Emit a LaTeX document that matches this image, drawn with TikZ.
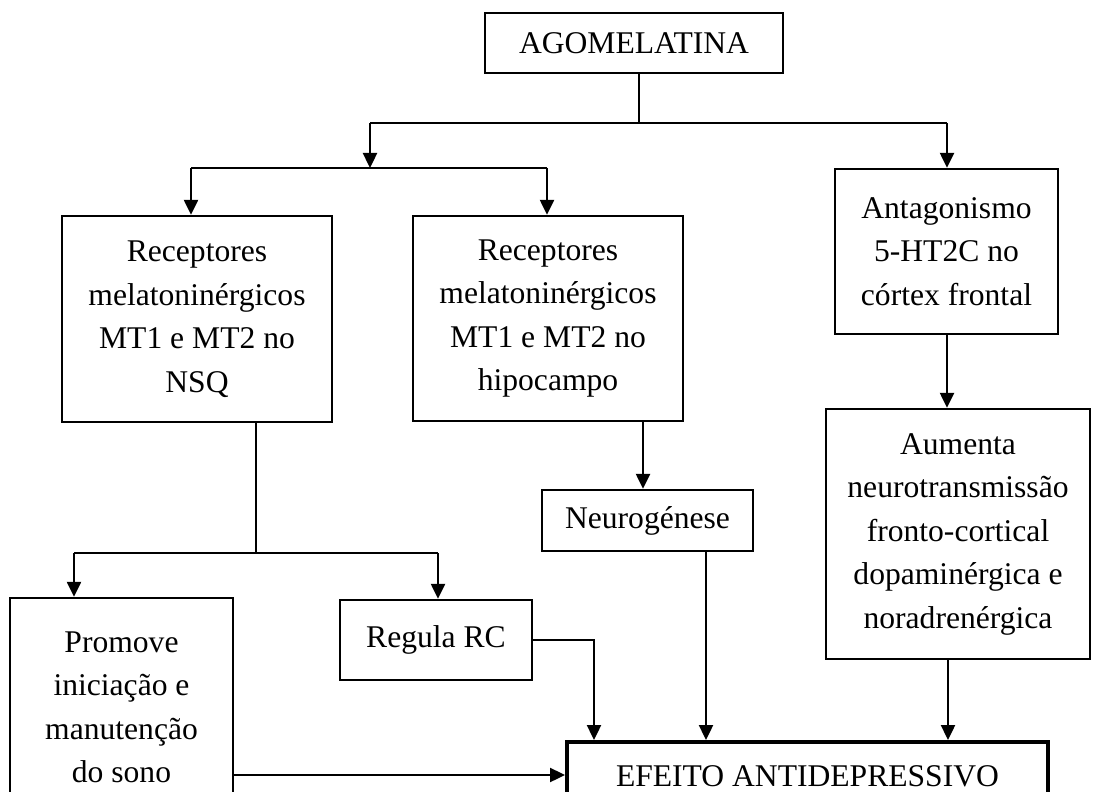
\documentclass[tikz,border=0pt]{standalone}
\usepackage{fontspec}
\setmainfont{Liberation Serif}
\usetikzlibrary{arrows.meta}

\begin{document}
\begin{tikzpicture}[x=0.5pt,y=-0.5pt,font=\fontsize{15.8pt}{21.75pt}\selectfont]

\tikzset{
% Two node styles: plain box and thick box
plain box/.style={draw,line width=1.2pt,align=center,inner sep=0pt},
thick box/.style={draw,line width=2pt,align=center,inner sep=0pt},
arrow line/.style={line width=1.2pt,-{Triangle[length=7.5pt,width=7pt]}},
plain line/.style={line width=1.2pt}
}

\useasboundingbox (0,0) rectangle (1098,792);

% The boxes
\node(agom)[plain box,minimum width=149pt,minimum height=30pt] at (634,43) {AGOMELATINA};
\node(nsq)[plain box,minimum width=135pt,minimum height=103pt] at (197,319)
{Receptores\\melatoninérgicos\\MT1 e MT2 no\\NSQ};
\node(hipo)[plain box,minimum width=135pt,minimum height=102.5pt] at (548,318.5)
{Receptores\\melatoninérgicos\\MT1 e MT2 no\\hipocampo};
\node(antag)[plain box,minimum width=111.5pt,minimum height=82.5pt] at (946.5,251.5)
{Antagonismo\\5-HT2C no\\córtex frontal};
\node(aumenta)[plain box,minimum width=132pt,minimum height=125pt] at (958,534)
{Aumenta\\neurotransmissão\\fronto-cortical\\dopaminérgica e\\noradrenérgica};
\node(neuro)[plain box,minimum width=105.5pt,minimum height=30.5pt] at (647.5,520.5) {Neurogénese};
\node(regula)[plain box,minimum width=96pt,minimum height=40pt] at (436,640) {Regula RC};
\node(promove)[plain box,minimum width=111.5pt,minimum height=109.5pt] at (121.5,707.5)
{Promove\\iniciação e\\manutenção\\do sono};
\node(efeito)[thick box,minimum width=240.5pt,minimum height=34pt] at (807.5,776) {EFEITO ANTIDEPRESSIVO};

% Branch points
\coordinate(top split) at (639,123);
\coordinate(top left) at (370,123);
\coordinate(top right) at (947,123);
\coordinate(mel split) at (370,168);
\coordinate(mel left) at (191,168);
\coordinate(mel right) at (547,168);
\coordinate(nsq split) at (256,553);
\coordinate(nsq left) at (74,553);
\coordinate(nsq right) at (438,553);
\coordinate(rc turn) at (594,640);

% The connectors
\draw[plain line] (agom.south -| top split) -- (top split);
\draw[plain line] (top left) -- (top right);
\draw[arrow line] (top left) -- (mel split);
\draw[arrow line] (top right) -- (antag.north -| top right);
\draw[plain line] (mel left) -- (mel right);
\draw[arrow line] (mel left) -- (nsq.north -| mel left);
\draw[arrow line] (mel right) -- (hipo.north -| mel right);
\draw[plain line] (nsq.south -| nsq split) -- (nsq split);
\draw[plain line] (nsq left) -- (nsq right);
\draw[arrow line] (nsq left) -- (promove.north -| nsq left);
\draw[arrow line] (nsq right) -- (regula.north -| nsq right);
\draw[arrow line] (hipo.south -| 643,0) -- (neuro.north -| 643,0);
\draw[arrow line] (antag.south -| top right) -- (aumenta.north -| top right);
\draw[arrow line] (regula.east) -- (rc turn) -- (efeito.north -| rc turn);
\draw[arrow line] (neuro.south -| 706,0) -- (efeito.north -| 706,0);
\draw[arrow line] (aumenta.south -| 948,0) -- (efeito.north -| 948,0);
\draw[arrow line] (promove.east |- 0,775) -- (efeito.west |- 0,775);

\end{tikzpicture}
\end{document}
